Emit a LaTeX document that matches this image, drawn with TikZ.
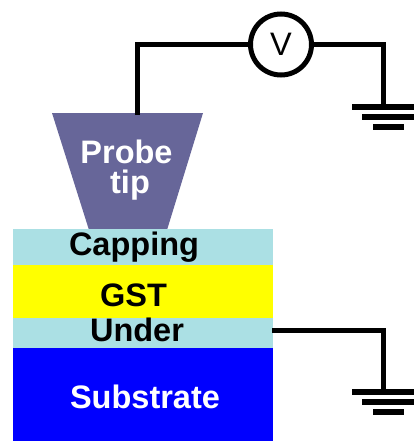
\documentclass[tikz,border=0pt]{standalone}
\usepackage{fontspec}
\setmainfont{Liberation Sans}
\definecolor{tipc}{HTML}{676699}
\definecolor{capc}{HTML}{ABE0E4}
\definecolor{gstc}{HTML}{FFFF00}
\definecolor{subc}{HTML}{0000FF}
\tikzset{
  wire/.style={line width=5pt,line join=miter,black},
  bar/.style={line width=5.5pt,black},
  layer/.style={draw=none,minimum width=260pt,inner sep=0pt,outer sep=0pt,anchor=north west},
  lab/.style={font=\fontsize{32.5}{34}\selectfont\bfseries,inner sep=0pt,anchor=base},
}
\begin{document}
\begin{tikzpicture}[x=1pt,y=-1pt]
\useasboundingbox (0,0) rectangle (414,441);
\fill[tipc] (52,113) -- (203,113) -- (167,230) -- (89,230) -- cycle;
\node[layer,fill=capc,minimum height=36pt] (capping) at (13,229) {};
\node[layer,fill=gstc,minimum height=53pt] (gst) at (13,265) {};
\node[layer,fill=capc,minimum height=30.5pt] (under) at (13,317.5) {};
\node[layer,fill=subc,minimum height=93pt] (substrate) at (13,348) {};
\node[lab,text=white] (probe) at (126.5,163) {Probe};
\node[lab,text=white] (tiplab) at (130,193.5) {tip};
\node[lab] (caplab) at (134,255.5) {Capping};
\node[lab] (gstlab) at (133.5,306) {GST};
\node[lab] (underlab) at (137,341) {Under};
\node[lab,text=white] (sublab) at (145,408) {Substrate};
\node[circle,draw=black,line width=5pt,fill=white,minimum size=61pt,inner sep=0pt,font=\fontsize{32.5}{34}\selectfont] (volt) at (281,44.5) {V};
\coordinate (tiptop) at (137.5,115);
\coordinate (g1) at (383,107);
\coordinate (g2) at (383,392);
\coordinate (ustart) at (272,330);
\draw[wire] (tiptop) |- (volt.west);
\draw[wire] (volt.east) -| (g1);
\draw[wire] (ustart) -| (g2);
\draw[bar] (352,107) -- (414,107);
\draw[bar] (362,117) -- (414,117);
\draw[bar] (373,127) -- (404,127);
\draw[bar] (352,392) -- (414,392);
\draw[bar] (362,402) -- (414,402);
\draw[bar] (373,412) -- (404,412);
\end{tikzpicture}
\end{document}
